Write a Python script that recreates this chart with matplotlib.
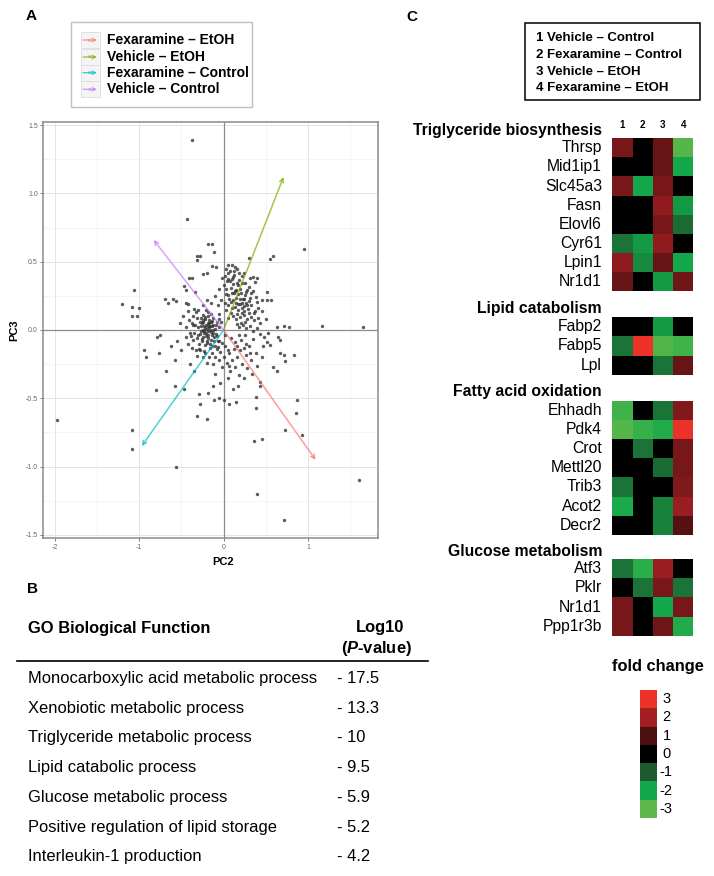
import matplotlib
matplotlib.use('Agg')
import matplotlib.pyplot as plt
from matplotlib.colors import LinearSegmentedColormap
from matplotlib.patches import Rectangle
import numpy as np

plt.rcParams['font.family'] = ['Liberation Sans', 'DejaVu Sans']
plt.rcParams['mathtext.fontset'] = 'custom'
plt.rcParams['mathtext.it'] = 'Liberation Sans:italic:bold'
plt.rcParams['mathtext.rm'] = 'Liberation Sans:bold'

# ---------------- DATA ----------------
# Panel A: PCA scores (PC2, PC3)
sparse_pts = [(-0.38, 1.39), (-0.43, 0.81), (-0.19, 0.63), (-0.14, 0.63), (-0.11, 0.57), (0.95, 0.59), (0.59, 0.54),
              (0.55, 0.52), (0.30, 0.53), (-0.32, 0.54), (-0.28, 0.54), (-0.31, 0.51), (-1.06, 0.29), (-1.21, 0.19),
              (-1.08, 0.17), (-1.00, 0.16), (-1.03, 0.10), (-1.08, 0.10), (-0.47, 0.32), (-0.45, 0.29), (-0.41, 0.38),
              (-0.38, 0.38), (-0.24, 0.41), (-0.20, 0.42), (-0.14, 0.47), (-0.09, 0.46), (-0.70, 0.23), (-0.66, 0.20),
              (-0.60, 0.23), (-0.56, 0.21), (-0.44, 0.20), (-0.42, 0.19), (-0.34, 0.28), (0.51, 0.28), (0.56, 0.22),
              (0.51, 0.22), (0.45, 0.22), (0.35, 0.39), (0.40, 0.38), (0.31, 0.38), (0.37, 0.35), (-1.97, -0.66),
              (-1.08, -0.73), (-1.08, -0.87), (-0.56, -1.00), (-0.94, -0.15), (-0.92, -0.20), (-0.80, -0.44),
              (-0.79, -0.05), (-0.75, -0.04), (-0.77, -0.17), (-0.68, -0.30), (-0.58, -0.41), (-0.47, -0.43),
              (-0.32, -0.63), (-0.20, -0.65), (-0.29, -0.47), (-0.19, -0.46), (-0.11, -0.51), (-0.05, -0.50),
              (0.00, -0.51), (-0.28, -0.54), (0.06, -0.54), (0.15, -0.53), (0.38, -0.49), (0.38, -0.57), (0.36, -0.81),
              (0.45, -0.80), (0.73, -0.73), (0.93, -0.77), (0.87, -0.51), (0.86, -0.61), (0.39, -1.20), (0.71, -1.39),
              (1.60, -1.10), (1.17, 0.03), (1.65, 0.02), (0.78, 0.02), (0.72, 0.03), (0.63, 0.02), (0.67, -0.17),
              (0.71, -0.18), (0.83, -0.18), (0.73, -0.23), (0.63, -0.30), (0.58, -0.27), (0.43, -0.38), (0.43, -0.41),
              (0.11, -0.43), (0.17, -0.41), (-0.04, -0.39), (-0.13, -0.41), (0.51, -0.09), (0.55, -0.11), (0.47, -0.12),
              (0.67, -0.07), (0.65, -0.05)]
core_left_pts = [(-0.30, 0.02), (-0.28, -0.03), (-0.26, 0.05), (-0.25, 0.00), (-0.24, -0.05), (-0.23, 0.03), (-0.22, 0.08),
                 (-0.21, -0.02), (-0.20, 0.01), (-0.19, 0.05), (-0.18, -0.04), (-0.17, 0.02), (-0.16, 0.00), (-0.15, 0.06),
                 (-0.15, -0.07), (-0.14, 0.03), (-0.13, -0.02), (-0.12, 0.04), (-0.11, -0.05), (-0.10, 0.01), (-0.27, 0.09),
                 (-0.24, 0.11), (-0.20, -0.08), (-0.18, 0.10), (-0.16, -0.10), (-0.13, 0.09), (-0.09, -0.03), (-0.08, 0.06),
                 (-0.32, -0.06), (-0.34, 0.04), (-0.29, -0.10), (-0.26, -0.08), (-0.22, -0.11), (-0.19, 0.13), (-0.14, -0.12),
                 (-0.07, -0.08), (-0.06, 0.02), (-0.36, 0.10), (-0.33, 0.13), (-0.21, 0.15), (-0.23, -0.01), (-0.17, 0.07),
                 (-0.19, -0.01), (-0.25, 0.06), (-0.21, 0.04), (-0.16, 0.03), (-0.14, -0.04), (-0.27, -0.01), (-0.12, 0.00),
                 (-0.18, -0.06)]
core_right_pts = [(0.023, 0.447), (0.058, 0.474), (0.104, 0.476), (0.137, 0.463), (0.016, 0.395), (0.047, 0.418),
                  (0.094, 0.377), (0.128, 0.406), (0.183, 0.414), (0.216, 0.393), (0.006, 0.326), (0.038, 0.357),
                  (0.085, 0.305), (0.117, 0.338), (0.164, 0.346), (0.197, 0.297), (0.253, 0.344), (0.276, 0.293),
                  (0.024, 0.266), (0.057, 0.254), (0.103, 0.273), (0.146, 0.236), (0.176, 0.263), (0.224, 0.226),
                  (0.257, 0.254), (0.304, 0.215), (0.327, 0.274), (0.013, 0.196), (0.054, 0.184), (0.087, 0.207),
                  (0.134, 0.166), (0.168, 0.194), (0.213, 0.163), (0.246, 0.177), (0.294, 0.153), (0.326, 0.185),
                  (0.374, 0.137), (0.397, 0.204), (0.083, 0.127), (0.116, 0.104), (0.163, 0.116), (0.196, 0.093),
                  (0.244, 0.107), (0.277, 0.084), (0.323, 0.096), (0.356, 0.073), (0.404, 0.087), (0.436, 0.054),
                  (0.153, 0.047), (0.186, 0.024), (0.234, 0.037), (0.266, 0.013), (0.313, 0.027), (0.347, -0.007),
                  (0.393, 0.014), (0.426, -0.027), (0.184, -0.034), (0.257, -0.036), (0.343, -0.063), (0.22, 0.20),
                  (0.19, 0.23), (0.24, 0.14), (0.17, 0.15), (0.27, 0.20), (0.11, 0.22), (0.21, 0.27), (0.15, 0.29),
                  (0.07, 0.36), (0.03, 0.30), (0.12, 0.43), (-0.05, 0.30), (-0.03, 0.22), (-0.07, 0.18), (-0.10, 0.25),
                  (-0.15, 0.20), (-0.20, 0.22), (-0.25, 0.18), (-0.30, 0.15), (-0.02, 0.38), (-0.06, 0.12)]
lower_pts = [(-0.45, -0.05), (-0.42, -0.10), (-0.40, -0.02), (-0.38, -0.13), (-0.36, -0.07), (-0.33, -0.15), (-0.31, -0.19),
             (-0.28, -0.15), (-0.25, -0.20), (-0.22, -0.17), (-0.20, -0.24), (-0.17, -0.20), (-0.14, -0.17), (-0.12, -0.25),
             (-0.10, -0.20), (-0.08, -0.14), (-0.06, -0.22), (-0.04, -0.16), (-0.02, -0.27), (0.00, -0.20), (0.02, -0.12),
             (0.04, -0.24), (0.06, -0.17), (0.08, -0.30), (0.10, -0.22), (0.12, -0.14), (0.14, -0.27), (0.16, -0.20),
             (0.18, -0.33), (0.20, -0.15), (0.22, -0.25), (0.24, -0.35), (0.26, -0.18), (0.28, -0.28), (0.30, -0.12),
             (0.32, -0.22), (0.34, -0.32), (0.38, -0.17), (0.40, -0.26), (0.45, -0.20), (-0.50, -0.15), (-0.55, -0.08),
             (-0.52, 0.05), (-0.48, 0.10), (-0.58, -0.22), (-0.62, -0.12), (-0.40, -0.25), (-0.35, -0.30), (-0.10, -0.32),
             (0.05, -0.35), (-0.05, -0.08), (0.02, -0.04), (-0.03, 0.06), (0.48, -0.05), (0.50, 0.08), (0.53, -0.02),
             (0.46, 0.14), (-0.42, 0.14), (-0.38, 0.05), (-0.45, 0.02)]
dense_pts = [(-0.215, 0.012), (-0.235, -0.022), (-0.185, 0.028), (-0.205, -0.047), (-0.265, 0.031), (-0.155, -0.018),
             (-0.175, 0.048), (-0.245, 0.072), (-0.285, 0.058), (-0.305, -0.034), (-0.135, 0.066), (-0.115, -0.083),
             (-0.095, 0.037), (-0.225, 0.097), (-0.195, -0.093), (-0.255, -0.064), (-0.165, -0.132), (-0.145, 0.118),
             (-0.315, 0.085), (-0.345, -0.022), (-0.075, -0.045), (-0.055, 0.078), (-0.385, -0.041), (-0.365, 0.036),
             (-0.292, -0.142), (-0.238, -0.155), (-0.105, -0.118), (-0.062, -0.127), (-0.412, 0.071), (-0.352, 0.157),
             (0.072, 0.432), (0.113, 0.387), (0.158, 0.447), (0.047, 0.372), (0.187, 0.368), (0.243, 0.418),
             (0.031, 0.148), (0.069, 0.226), (0.137, 0.283), (0.176, 0.333), (0.214, 0.342), (0.262, 0.276),
             (0.298, 0.318), (0.318, 0.236), (0.352, 0.283), (0.382, 0.242), (0.413, 0.163), (0.357, 0.126),
             (0.296, 0.127), (0.254, 0.061), (0.212, 0.052), (0.143, 0.082), (0.104, 0.163), (0.058, 0.087),
             (0.221, 0.127), (0.283, 0.183), (0.193, 0.193), (0.147, 0.198), (0.247, 0.227), (0.118, 0.271),
             (0.138, -0.087), (0.203, -0.072), (0.268, -0.103), (0.087, -0.062), (-0.018, -0.092), (0.047, -0.148),
             (0.162, -0.117), (0.237, -0.132), (0.317, -0.168), (0.063, -0.263)]

loading_names = ['Fexaramine \u2013 EtOH', 'Vehicle \u2013 EtOH', 'Fexaramine \u2013 Control', 'Vehicle \u2013 Control']
loading_pc2 = [1.09, 0.71, -0.97, -0.83]
loading_pc3 = [-0.95, 1.12, -0.85, 0.66]
loading_colors = ['#F8766D', '#7CAE00', '#00BFC4', '#C77CFF']

# Panel B
go_terms = ['Monocarboxylic acid metabolic process', 'Xenobiotic metabolic process',
            'Triglyceride metabolic process', 'Lipid catabolic process', 'Glucose metabolic process',
            'Positive regulation of lipid storage', 'Interleukin-1 production']
go_log10p = [-17.5, -13.3, -10, -9.5, -5.9, -5.2, -4.2]

# Panel C
condition_labels = ['1 Vehicle \u2013 Control', '2 Fexaramine \u2013 Control', '3 Vehicle \u2013 EtOH',
                    '4 Fexaramine \u2013 EtOH']
col_numbers = ['1', '2', '3', '4']
trig_genes = ['Thrsp', 'Mid1ip1', 'Slc45a3', 'Fasn', 'Elovl6', 'Cyr61', 'Lpin1', 'Nr1d1']
trig_fc = [[1.5, 0, 1.3, -2.9], [0, 0, 1.3, -2.0], [1.5, -2.0, 1.5, 0], [0, 0, 1.8, -1.8],
           [0, 0, 1.5, -1.2], [-1.3, -1.8, 1.8, 0], [1.8, -1.6, 1.3, -2.0], [1.3, 0, -1.8, 1.4]]
lipcat_genes = ['Fabp2', 'Fabp5', 'Lpl']
lipcat_fc = [[0, 0, -1.8, 0], [-1.3, 3.0, -2.8, -2.6], [0, 0, -1.3, 1.3]]
fao_genes = ['Ehhadh', 'Pdk4', 'Crot', 'Mettl20', 'Trib3', 'Acot2', 'Decr2']
fao_fc = [[-2.6, 0, -1.3, 1.6], [-2.9, -2.5, -2.2, 3.0], [0, -1.3, 0, 1.5], [0, 0, -1.2, 1.5],
          [-1.3, 0, 0, 1.6], [-2.1, 0, -1.5, 1.9], [0, 0, -1.5, 1.1]]
gluc_genes = ['Atf3', 'Pklr', 'Nr1d1', 'Ppp1r3b']
gluc_fc = [[-1.3, -2.3, 1.9, 0], [0, -1.3, 1.5, -1.3], [1.5, 0, -2.0, 1.5], [1.5, 0, 1.4, -2.2]]
block_titles = ['Triglyceride biosynthesis', 'Lipid catabolism', 'Fatty acid oxidation', 'Glucose metabolism']
scale_values = [3, 2, 1, 0, -1, -2, -3]
scale_colors = ['#ec3129', '#a11e23', '#4d1010', '#000000', '#1d5b2e', '#12a84b', '#5db849']

# ---------------- FIGURE ----------------
W, H = 714, 876
fig = plt.figure(figsize=(W / 100, H / 100), dpi=100)


def px_axes(x0, y0, x1, y1):
    return fig.add_axes([x0 / W, 1 - y1 / H, (x1 - x0) / W, (y1 - y0) / H])


ov = fig.add_axes([0, 0, 1, 1])
ov.set_xlim(0, W)
ov.set_ylim(H, 0)
ov.axis('off')

# Panel letters
for lab, (lx, ly) in zip(['A', 'B', 'C'], [(31.5, 15.5), (32, 589), (412, 17)]):
    ov.text(lx, ly, lab, fontsize=11, fontweight='bold', ha='center', va='center')

# ---------- Panel A ----------
ax = px_axes(43.3, 121.7, 378, 538.3)
ax.set_xlim(-2.137, 1.83)
ax.set_ylim(-1.525, 1.525)
ax.set_xticks([-2, -1, 0, 1])
ax.set_xticklabels(['-2', '-1', '0', '1'])
ax.set_yticks([-1.5, -1.0, -0.5, 0.0, 0.5, 1.0, 1.5])
ax.set_yticklabels(['-1.5', '-1.0', '-0.5', '0.0', '0.5', '1.0', '1.5'])
ax.set_xticks([-1.5, -0.5, 0.5, 1.5], minor=True)
ax.set_yticks([-1.25, -0.75, -0.25, 0.25, 0.75, 1.25], minor=True)
ax.grid(which='major', color='#e4e4e4', lw=0.7)
ax.grid(which='minor', color='#f2f2f2', lw=0.5)
ax.set_axisbelow(True)
ax.tick_params(which='minor', length=0)
ax.tick_params(which='major', length=2.5, width=0.6, color='#666666', labelsize=5,
               labelcolor='#666666', pad=1.5)
for s in ax.spines.values():
    s.set_color('#8a8a8a')
    s.set_linewidth(1.1)
ax.axhline(0, color='#8c8c8c', lw=0.9, zorder=1)
ax.axvline(0, color='#8c8c8c', lw=0.9, zorder=1)

for grp in [sparse_pts, core_left_pts, core_right_pts, lower_pts, dense_pts]:
    gx = [p[0] for p in grp]
    gy = [p[1] for p in grp]
    ax.scatter(gx, gy, s=6, color='#333333', alpha=0.8, linewidths=0, zorder=2)

for lx, ly, c in zip(loading_pc2, loading_pc3, loading_colors):
    ax.annotate('', xy=(lx, ly), xytext=(0, 0),
                arrowprops=dict(arrowstyle='->', color=c, lw=1.1, alpha=0.7,
                                shrinkA=0, shrinkB=0, mutation_scale=7), zorder=3)

ov.text(222.7, 561.7, 'PC2', fontsize=8, fontweight='bold', ha='center', va='center')
ov.text(14, 330, 'PC3', fontsize=8, fontweight='bold', ha='center', va='center', rotation=90)

# legend A
ov.add_patch(Rectangle((71, 21.7), 181.3, 85, facecolor='white', edgecolor='#c0c0c0', lw=1))
leg_y = [40, 57, 72.7, 89.3]
for yy, name, c in zip(leg_y, loading_names, loading_colors):
    ov.add_patch(Rectangle((80.5, yy - 8), 19, 16, facecolor='#f4f4f4', edgecolor='#dcdcdc', lw=0.6))
    ov.annotate('', xy=(97, yy), xytext=(83, yy),
                arrowprops=dict(arrowstyle='->', color=c, lw=1.0, alpha=0.7, shrinkA=0, shrinkB=0,
                                mutation_scale=6))
    ov.text(90, yy, 'a', fontsize=4.5, color=c, alpha=0.8, ha='center', va='center')
    ov.text(107.3, yy, name, fontsize=10, fontweight='bold', ha='left', va='center')

# ---------- Panel B ----------
ov.text(27.7, 628.3, 'GO Biological Function', fontsize=11.9, fontweight='bold', ha='left', va='center')
ov.text(380, 627.5, 'Log10', fontsize=11.9, fontweight='bold', ha='center', va='center')
ov.text(376, 648.3, r'($\mathit{P}$-value)', fontsize=11.9, fontweight='bold', ha='center', va='center')
ov.plot([17.3, 428.3], [661, 661], color='black', lw=1.2)
row_y = [678.3, 708.3, 737.7, 767.7, 797.7, 827.7, 856.7]
for yy, term, v in zip(row_y, go_terms, go_log10p):
    ov.text(27.7, yy, term, fontsize=11.9, ha='left', va='center')
    ov.text(337.3, yy, '- %g' % abs(v), fontsize=11.9, ha='left', va='center')

# ---------- Panel C ----------
ov.add_patch(Rectangle((525, 23.3), 175, 76.7, facecolor='white', edgecolor='black', lw=1.1))
for yy, t in zip([38.3, 55, 71.7, 88.3], condition_labels):
    ov.text(536, yy, t, fontsize=9.5, fontweight='bold', ha='left', va='center')

cmap = LinearSegmentedColormap.from_list('fc', list(zip(np.linspace(0, 1, 7), scale_colors[::-1])))

hx0, hx1 = 612.3, 693.3
colw = (hx1 - hx0) / 4
for i, n in enumerate(col_numbers):
    ov.text(hx0 + colw * (i + 0.5), 125, n, fontsize=7, fontweight='bold', ha='center', va='center')

blocks = [(trig_genes, trig_fc, 138.3, 130), (lipcat_genes, lipcat_fc, 317.3, 308.3),
          (fao_genes, fao_fc, 401, 391.7), (gluc_genes, gluc_fc, 559.3, 551.7)]
rowh = 19.1
for (genes, vals, ytop, ytitle), title in zip(blocks, block_titles):
    n = len(genes)
    hax = px_axes(hx0, ytop, hx1, ytop + n * rowh)
    hax.pcolormesh(np.array(vals), cmap=cmap, vmin=-3, vmax=3)
    hax.set_xlim(0, 4)
    hax.set_ylim(n, 0)
    hax.axis('off')
    ov.text(602, ytitle, title, fontsize=11.3, fontweight='bold', ha='right', va='center')
    for k, g in enumerate(genes):
        ov.text(602, ytop + rowh * (k + 0.5), g, fontsize=11.3, ha='right', va='center')

# fold change scale
ov.text(658, 666.7, 'fold change', fontsize=11.8, fontweight='bold', ha='center', va='center')
cax = px_axes(640, 690, 657.3, 818)
cax.pcolormesh(np.array(scale_values).reshape(-1, 1), cmap=cmap, vmin=-3, vmax=3)
cax.set_ylim(len(scale_values), 0)
cax.axis('off')
seg = (818 - 690) / len(scale_values)
for k, v in enumerate(scale_values):
    ov.text(659 if v < 0 else 662.5, 690 + seg * (k + 0.5), str(v), fontsize=10.5, ha='left', va='center')

fig.savefig('out.png', dpi=100)
